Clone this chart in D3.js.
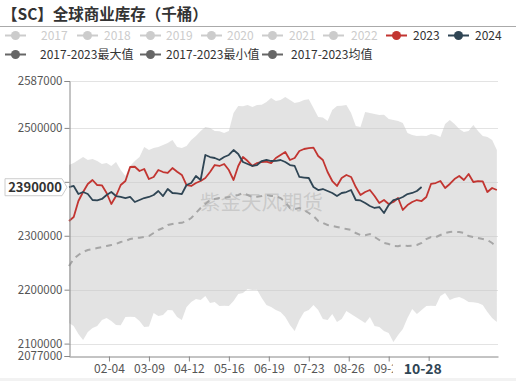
<!DOCTYPE html>
<html><head><meta charset="utf-8">
<script src="https://cdn.jsdelivr.net/npm/d3@7"></script>
<style>html,body{margin:0;padding:0;background:#fff;}svg{display:block;}svg text{font-family:"Noto Sans CJK SC","Noto Sans",sans-serif;}</style>
</head><body>
<svg id="chart" width="516" height="381" font-family="Noto Sans CJK SC, Noto Sans, sans-serif"></svg>
<script>
// ---- data ----
const title = "【SC】全球商业库存（千桶）";
const categories = d3.timeDays(new Date(2024,0,1), new Date(2025,0,1)).map(d3.timeFormat("%m-%d"));
const sampleDates = categories.filter((d,i)=> i % 4 === 0);
const xTickLabels = ["02-04","03-09","04-12","05-16","06-19","07-23","08-26","09-29","11-02"];
const yTickValues = [2077000,2100000,2200000,2300000,2400000,2500000,2587000];
const yDomain = [2077000, 2587000];
const pointerY = 2390000;
const pointerX = "10-28";
const legendRow1 = ["2017","2018","2019","2020","2021","2022","2023","2024"];
const legendRow2 = ["2017-2023最大值","2017-2023最小值","2017-2023均值"];
const watermark = "紫金天风期货";

const s2023 = [2327400,2334800,2364400,2381100,2396000,2403400,2394100,2393500,2379300,2358900,
 2373700,2394100,2401500,2427500,2428000,2420100,2423800,2405200,2409000,2421900,
 2418200,2416400,2425600,2418800,2412700,2394100,2392300,2397800,2401500,2407100,
 2418200,2431200,2429400,2433100,2421900,2403400,2429400,2446000,2438600,2429400,
 2434900,2436800,2437500,2434900,2444200,2449800,2455300,2440500,2444200,2457200,
 2460900,2462700,2463500,2447900,2440500,2418200,2401500,2392300,2407100,2412700,
 2409000,2390400,2375600,2381100,2384800,2373700,2360700,2366300,2358900,2362600,
 2370000,2347800,2357000,2362600,2366300,2364400,2371900,2396000,2397800,2401500,
 2388600,2396000,2405200,2410800,2403400,2414500,2399700,2401500,2400800,2381100,
 2388600,2384800];
const s2024 = [2390400,2392300,2377400,2381100,2377400,2366300,2365800,2368200,2375600,2381100,
 2373700,2371900,2370000,2371900,2362600,2366300,2370000,2371900,2375600,2383000,
 2373700,2386700,2379300,2378700,2377400,2394100,2397800,2410800,2403400,2449800,
 2446000,2444200,2440500,2446000,2449800,2459000,2451600,2436800,2433100,2429400,
 2431200,2438600,2440500,2438600,2439000,2440500,2436800,2431200,2429400,2409000,
 2408000,2407100,2390400,2384800,2386700,2383000,2379300,2373700,2379300,2381100,
 2384800,2366300,2365500,2360700,2355200,2351500,2353300,2342200,2357000,2366300,
 2368200,2371900,2377400,2379300,2383000,2390400];
const sMean = [2243900,2256900,2264300,2269900,2273600,2275400,2277300,2279100,2281000,2282800,
 2284700,2288400,2290300,2294000,2295800,2296300,2297700,2299500,2305100,2310700,
 2314400,2319900,2321800,2323600,2324000,2327400,2332900,2342200,2351500,2358900,
 2366300,2368200,2370000,2370500,2371900,2373700,2375600,2379300,2375600,2371900,
 2372300,2373700,2375600,2373700,2373200,2370000,2362600,2351500,2349600,2351500,
 2347800,2342200,2336600,2327400,2323600,2319900,2318100,2316200,2314400,2312500,
 2310700,2305100,2301400,2301000,2303200,2297700,2292100,2286600,2284700,2281000,
 2280600,2282800,2281000,2281300,2282800,2286600,2294000,2297700,2297300,2301400,
 2305100,2307000,2307400,2307000,2305100,2299500,2297700,2295800,2294000,2292100,
 2286600,2279100];
const sMax = [2431200,2434900,2440500,2446000,2440500,2442300,2438600,2433100,2434900,2429400,
 2436800,2421900,2410800,2429400,2438600,2446000,2464600,2459000,2462700,2464600,
 2468300,2472000,2477600,2464600,2462700,2466400,2477600,2485000,2494300,2501700,
 2499800,2494300,2493800,2490600,2494300,2527600,2540600,2540000,2542500,2538800,
 2542500,2543000,2548000,2555500,2549900,2551800,2557300,2551800,2546200,2548000,
 2551800,2553000,2536900,2520200,2519500,2512800,2533200,2540600,2541200,2542500,
 2527600,2503500,2501700,2529500,2527600,2525800,2523900,2524500,2516500,2514700,
 2512800,2509100,2490600,2486800,2485000,2485600,2485000,2488700,2486800,2483100,
 2507200,2514700,2507200,2498000,2492400,2494300,2505400,2494300,2485000,2483100,
 2477600,2459000];
const sMin = [2138200,2132600,2117800,2106600,2121500,2128900,2132600,2143700,2147400,2141900,
 2134500,2134000,2149300,2150000,2149300,2141900,2130800,2131500,2156700,2151200,
 2153000,2162300,2161800,2149300,2143700,2167800,2177100,2182700,2180800,2188200,
 2175300,2177100,2169700,2170300,2169700,2179000,2192000,2193800,2201200,2199400,
 2200000,2184500,2171600,2167800,2162300,2158600,2149300,2134500,2123300,2143700,
 2158600,2162300,2171600,2162300,2145600,2143700,2154900,2140000,2145600,2160400,
 2154900,2149300,2143700,2138200,2149300,2132600,2130800,2123300,2119600,2102900,
 2115900,2127000,2147400,2164100,2154900,2162300,2169700,2170200,2169700,2188200,
 2193800,2180800,2184500,2186400,2182700,2177100,2176500,2175300,2171600,2158600,
 2147400,2140000];

// ---- styles ----
const FONT = "Noto Sans CJK SC";
const C23 = "#c23531", C24 = "#2f4554", CGRAY = "#ccc", CDARK = "#666";

const svg = d3.select("#chart");
const x = d3.scalePoint().domain(categories).range([69, 498]);
const y = d3.scaleLinear().domain(yDomain).range([356, 81]);

// title
svg.append("text").attr("x", 2).attr("y", 19.5).attr("font-size", 15.5).attr("font-weight", "bold")
  .attr("font-family", FONT).attr("fill", "#333").text(title);
svg.append("line").attr("x1", 0).attr("x2", 516).attr("y1", 26.5).attr("y2", 26.5)
  .attr("stroke", "#aaa").attr("stroke-width", 1);

// legend
const leg1X = [5, 77, 140, 201, 262, 323, 386, 448];
const leg1T = [41, 104, 166, 227, 289, 351, 413, 475];
const leg1C = [CGRAY,CGRAY,CGRAY,CGRAY,CGRAY,CGRAY,C23,C24];
const leg2X = [5, 140, 262];
const leg2T = [40, 166, 291];
function legendItem(name, ix, tx, cy, color, textColor){
  const g = svg.append("g");
  g.append("line").attr("x1", ix).attr("x2", ix+21).attr("y1", cy).attr("y2", cy)
    .attr("stroke", color).attr("stroke-width", 2);
  g.append("circle").attr("cx", ix+10.5).attr("cy", cy).attr("r", 4.5).attr("fill", color);
  g.append("text").attr("x", tx).attr("y", cy+4.3).attr("font-size", 12).attr("font-family", FONT)
    .attr("fill", textColor).text(name);
}
legendRow1.forEach((n,i)=> legendItem(n, leg1X[i], leg1T[i], 35.5, leg1C[i], i<6 ? CGRAY : "#333"));
legendRow2.forEach((n,i)=> legendItem(n, leg2X[i], leg2T[i], 54.5, CDARK, "#333"));

// gridlines
svg.append("g").selectAll("line").data(yTickValues.filter(v=>v!==yDomain[0])).join("line")
  .attr("x1", 69).attr("x2", 498).attr("y1", d=>Math.round(y(d))+0.5).attr("y2", d=>Math.round(y(d))+0.5)
  .attr("stroke", "#e3e3e3").attr("stroke-width", 1);

// band
const band = sampleDates.map((d,i)=>({d, lo: sMin[i], hi: sMax[i]}));
svg.append("path").datum(band)
  .attr("d", d3.area().x(p=>x(p.d)).y0(p=>y(p.lo)).y1(p=>y(p.hi)))
  .attr("fill", "#c8c8c8").attr("fill-opacity", 0.5);

// watermark
svg.append("text").attr("x", 200).attr("y", 210).attr("font-size", 20.5).attr("font-family", FONT)
  .attr("fill", "#999").attr("fill-opacity", 0.35).text(watermark);

// lines
const line = d3.line().x(p=>x(p[0])).y(p=>y(p[1]));
svg.append("path").datum(sampleDates.map((d,i)=>[d, sMean[i]]))
  .attr("d", line).attr("fill", "none").attr("stroke", "#a6a6a6").attr("stroke-width", 2)
  .attr("stroke-dasharray", "6,5");
svg.append("path").datum(sampleDates.map((d,i)=>[d, s2023[i]]))
  .attr("d", line).attr("fill", "none").attr("stroke", C23).attr("stroke-width", 1.8).attr("stroke-linejoin","round");
svg.append("path").datum(s2024.map((v,i)=>[sampleDates[i], v]))
  .attr("d", line).attr("fill", "none").attr("stroke", C24).attr("stroke-width", 1.8).attr("stroke-linejoin","round");

// axes
const yAxis = svg.append("g").attr("transform", "translate(69.5,0)")
  .call(d3.axisLeft(y).tickValues(yTickValues).tickSize(5).tickPadding(2).tickFormat(d3.format("d")));
yAxis.attr("font-family", FONT);
yAxis.selectAll("text").attr("font-size", 11.5).attr("fill", "#555")
  .style("display", d => Math.abs(y(d)-y(pointerY))<10 ? "none" : null);
yAxis.select(".domain").attr("stroke", "#888");
yAxis.selectAll(".tick line").attr("stroke", "#888");

const px = x(pointerX);
const xAxis = svg.append("g").attr("transform", "translate(0,356.5)")
  .call(d3.axisBottom(x).tickValues(xTickLabels).tickSize(5).tickPadding(3).tickSizeOuter(0));
xAxis.attr("font-family", FONT);
xAxis.selectAll("text").attr("font-size", 12).attr("fill", "#555")
  .style("display", d => Math.abs(x(d)-px) < 8 ? "none" : null);
xAxis.select(".domain").attr("stroke", "#888");
xAxis.selectAll(".tick line").attr("stroke", "#888");

// axis pointer labels
const py = y(pointerY);
svg.append("path")
  .attr("d", `M5,${py-8.5} L62,${py-8.5} L67,${py} L62,${py+8.5} L5,${py+8.5} Z`)
  .attr("fill", "#fff").attr("stroke", "#ccc");
svg.append("text").attr("x", 35).attr("y", py+4.5).attr("text-anchor", "middle").attr("font-family", FONT)
  .attr("font-size", 13).attr("font-weight", "bold").attr("fill", "#333").text(d3.format("d")(pointerY));

svg.append("rect").attr("x", px-30).attr("y", 361).attr("width", 60).attr("height", 16).attr("fill", "#fff");
svg.append("text").attr("x", px).attr("y", 373.5).attr("text-anchor", "middle").attr("font-family", FONT)
  .attr("font-size", 14).attr("font-weight", "bold").attr("fill", C24).text(pointerX);

// bottom strip
svg.append("rect").attr("x", 0).attr("y", 378).attr("width", 516).attr("height", 3).attr("fill", "#f2f2f2");
</script>
</body></html>
